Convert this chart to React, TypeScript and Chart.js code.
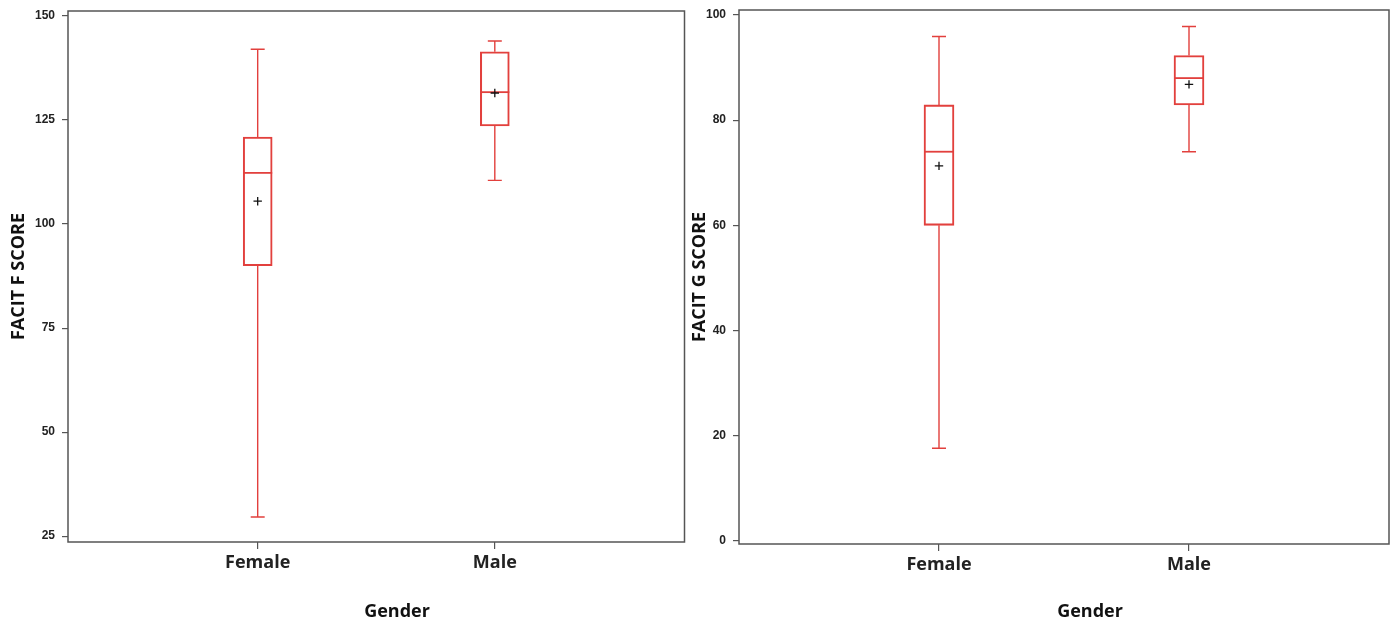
import React, { useEffect, useRef } from 'react';
import { Chart, registerables } from 'chart.js';

Chart.register(...registerables);

// ---- data ----
const categories = ['Female', 'Male'];

const facitFMin = [29.6, 110.5];
const facitFQ1 = [90, 123.6];
const facitFMedian = [112.3, 131.7];
const facitFQ3 = [120.9, 141.4];
const facitFMax = [142, 144];
const facitFMean = [105.5, 131.5];
const facitFTicks = [25, 50, 75, 100, 125, 150];

const facitGMin = [17.6, 74];
const facitGQ1 = [60, 82.9];
const facitGMedian = [74, 88];
const facitGQ3 = [82.9, 92.3];
const facitGMax = [95.9, 97.8];
const facitGMean = [71.3, 86.8];
const facitGTicks = [0, 20, 40, 60, 80, 100];

const RED = '#e2403d';
const AXIS = '#555555';

type PanelCfg = {
  yTitle: string;
  min: number[];
  q1: number[];
  median: number[];
  q3: number[];
  max: number[];
  mean: number[];
  ticks: number[];
  yMin: number;
  yMax: number;
  yAxisWidth: number;
  xAxisHeight: number;
  padTop: number;
  padRight: number;
  titlePad: number;
  barThickness: number;
};

function BoxPanel({ cfg, width, height }: { cfg: PanelCfg; width: number; height: number }) {
  const ref = useRef<HTMLCanvasElement | null>(null);
  useEffect(() => {
    if (!ref.current) return;

    const boxPlugin = {
      id: 'boxWhiskers',
      beforeDatasetsDraw(chart: any) {
        const { ctx, chartArea } = chart;
        const xs = chart.scales.x;
        const ys = chart.scales.y;
        const meta = chart.getDatasetMeta(0);
        ctx.save();
        // frame
        ctx.strokeStyle = AXIS;
        ctx.lineWidth = 1.5;
        ctx.strokeRect(chartArea.left, chartArea.top, chartArea.right - chartArea.left, chartArea.bottom - chartArea.top);
        ctx.strokeStyle = RED;
        categories.forEach((_, i) => {
          const cx = xs.getPixelForValue(i + 1);
          const bar = meta.data[i] as any;
          const hw = bar && bar.width ? bar.width / 2 : 14;
          const capHw = 7;
          const pMin = ys.getPixelForValue(cfg.min[i]);
          const pQ1 = ys.getPixelForValue(cfg.q1[i]);
          const pMed = ys.getPixelForValue(cfg.median[i]);
          const pQ3 = ys.getPixelForValue(cfg.q3[i]);
          const pMax = ys.getPixelForValue(cfg.max[i]);
          ctx.lineWidth = 1.4;
          ctx.beginPath();
          ctx.moveTo(cx, pQ3);
          ctx.lineTo(cx, pMax);
          ctx.moveTo(cx - capHw, pMax);
          ctx.lineTo(cx + capHw, pMax);
          ctx.moveTo(cx, pQ1);
          ctx.lineTo(cx, pMin);
          ctx.moveTo(cx - capHw, pMin);
          ctx.lineTo(cx + capHw, pMin);
          ctx.stroke();
          ctx.lineWidth = 1.8;
          ctx.beginPath();
          ctx.moveTo(cx - hw, pMed);
          ctx.lineTo(cx + hw, pMed);
          ctx.stroke();
        });
        ctx.restore();
      },
    };

    const chart = new Chart(ref.current, {
      type: 'bar',
      data: {
        datasets: [
          {
            type: 'bar',
            data: categories.map((_, i) => ({ x: i + 1, y: [cfg.q1[i], cfg.q3[i]] })) as any,
            backgroundColor: 'rgba(0,0,0,0)',
            borderColor: RED,
            borderWidth: 1.4,
            borderSkipped: false,
            barThickness: cfg.barThickness,
          } as any,
          {
            type: 'line',
            data: categories.map((_, i) => ({ x: i + 1, y: cfg.mean[i] })) as any,
            showLine: false,
            pointStyle: 'cross',
            pointRadius: 4.2,
            pointBorderColor: '#111111',
            pointBorderWidth: 1.3,
            pointBackgroundColor: '#111111',
          } as any,
        ],
      },
      options: {
        animation: false,
        responsive: false,
        maintainAspectRatio: false,
        layout: { padding: { top: cfg.padTop, right: cfg.padRight, left: 0, bottom: 0 } },
        plugins: { legend: { display: false }, tooltip: { enabled: false } },
        scales: {
          x: {
            type: 'linear',
            min: 0.2,
            max: 2.8,
            offset: false,
            afterFit(scale: any) {
              scale.height = cfg.xAxisHeight;
              scale.paddingLeft = 0;
              scale.paddingRight = 0;
            },
            afterBuildTicks(scale: any) {
              scale.ticks = categories.map((_, i) => ({ value: i + 1 }));
            },
            ticks: {
              autoSkip: false,
              maxRotation: 0,
              padding: 3,
              color: '#222222',
              font: { family: '"Open Sans", sans-serif', size: 18, weight: 'bold' },
              callback: (v: any) => categories[Math.round(Number(v)) - 1] ?? '',
            },
            grid: {
              display: true,
              offset: false,
              drawOnChartArea: false,
              drawTicks: true,
              tickLength: 7,
              color: AXIS,
              lineWidth: 1.2,
            },
            border: { display: false },
          },
          y: {
            type: 'linear',
            min: cfg.yMin,
            max: cfg.yMax,
            afterFit(scale: any) {
              scale.width = cfg.yAxisWidth;
              scale.paddingTop = 0;
              scale.paddingBottom = 0;
            },
            afterBuildTicks(scale: any) {
              scale.ticks = cfg.ticks.map((v) => ({ value: v }));
            },
            ticks: {
              padding: 7,
              color: '#222222',
              font: { family: '"Liberation Sans", Arial, sans-serif', size: 12, weight: 'bold' },
              callback: (v: any) => String(v),
            },
            grid: { display: true, drawOnChartArea: false, drawTicks: true, tickLength: 6, color: AXIS, lineWidth: 1.2 },
            border: { display: false },
            title: {
              display: true,
              text: cfg.yTitle,
              color: '#111111',
              font: { family: '"Open Sans", sans-serif', size: 18, weight: 'bold', lineHeight: 1 },
              padding: { top: cfg.titlePad, bottom: 0 },
            },
          },
        },
      } as any,
      plugins: [boxPlugin],
    });
    return () => chart.destroy();
  }, [cfg]);
  return <canvas ref={ref} width={width} height={height} style={{ width, height, display: 'block' }} />;
}

const leftCfg: PanelCfg = {
  yTitle: 'FACIT F SCORE',
  min: facitFMin,
  q1: facitFQ1,
  median: facitFMedian,
  q3: facitFQ3,
  max: facitFMax,
  mean: facitFMean,
  ticks: facitFTicks,
  yMin: 23.6,
  yMax: 151.2,
  yAxisWidth: 68,
  xAxisHeight: 79,
  padTop: 11,
  padRight: 2,
  titlePad: 10,
  barThickness: 29,
};

const rightCfg: PanelCfg = {
  yTitle: 'FACIT G SCORE',
  min: facitGMin,
  q1: facitGQ1,
  median: facitGMedian,
  q3: facitGQ3,
  max: facitGMax,
  mean: facitGMean,
  ticks: facitGTicks,
  yMin: -0.6,
  yMax: 100.95,
  yAxisWidth: 49,
  xAxisHeight: 77,
  padTop: 10,
  padRight: 8,
  titlePad: 1,
  barThickness: 30,
};

const titleStyle: React.CSSProperties = {
  position: 'absolute',
  top: 601,
  width: 200,
  textAlign: 'center',
  fontFamily: '"Open Sans", sans-serif',
  fontWeight: 'bold',
  fontSize: 18,
  lineHeight: '18px',
  color: '#111111',
};

export default function App() {
  return (
    <div style={{ position: 'fixed', left: 0, top: 0, width: 1397, height: 621, background: '#ffffff', overflow: 'hidden' }}>
      <div style={{ position: 'absolute', left: 0, top: 0 }}>
        <BoxPanel cfg={leftCfg} width={690} height={621} />
      </div>
      <div style={{ position: 'absolute', left: 690, top: 0 }}>
        <BoxPanel cfg={rightCfg} width={707} height={621} />
      </div>
      <div style={{ ...titleStyle, left: 397 - 100 }}>Gender</div>
      <div style={{ ...titleStyle, left: 1090 - 100 }}>Gender</div>
    </div>
  );
}
